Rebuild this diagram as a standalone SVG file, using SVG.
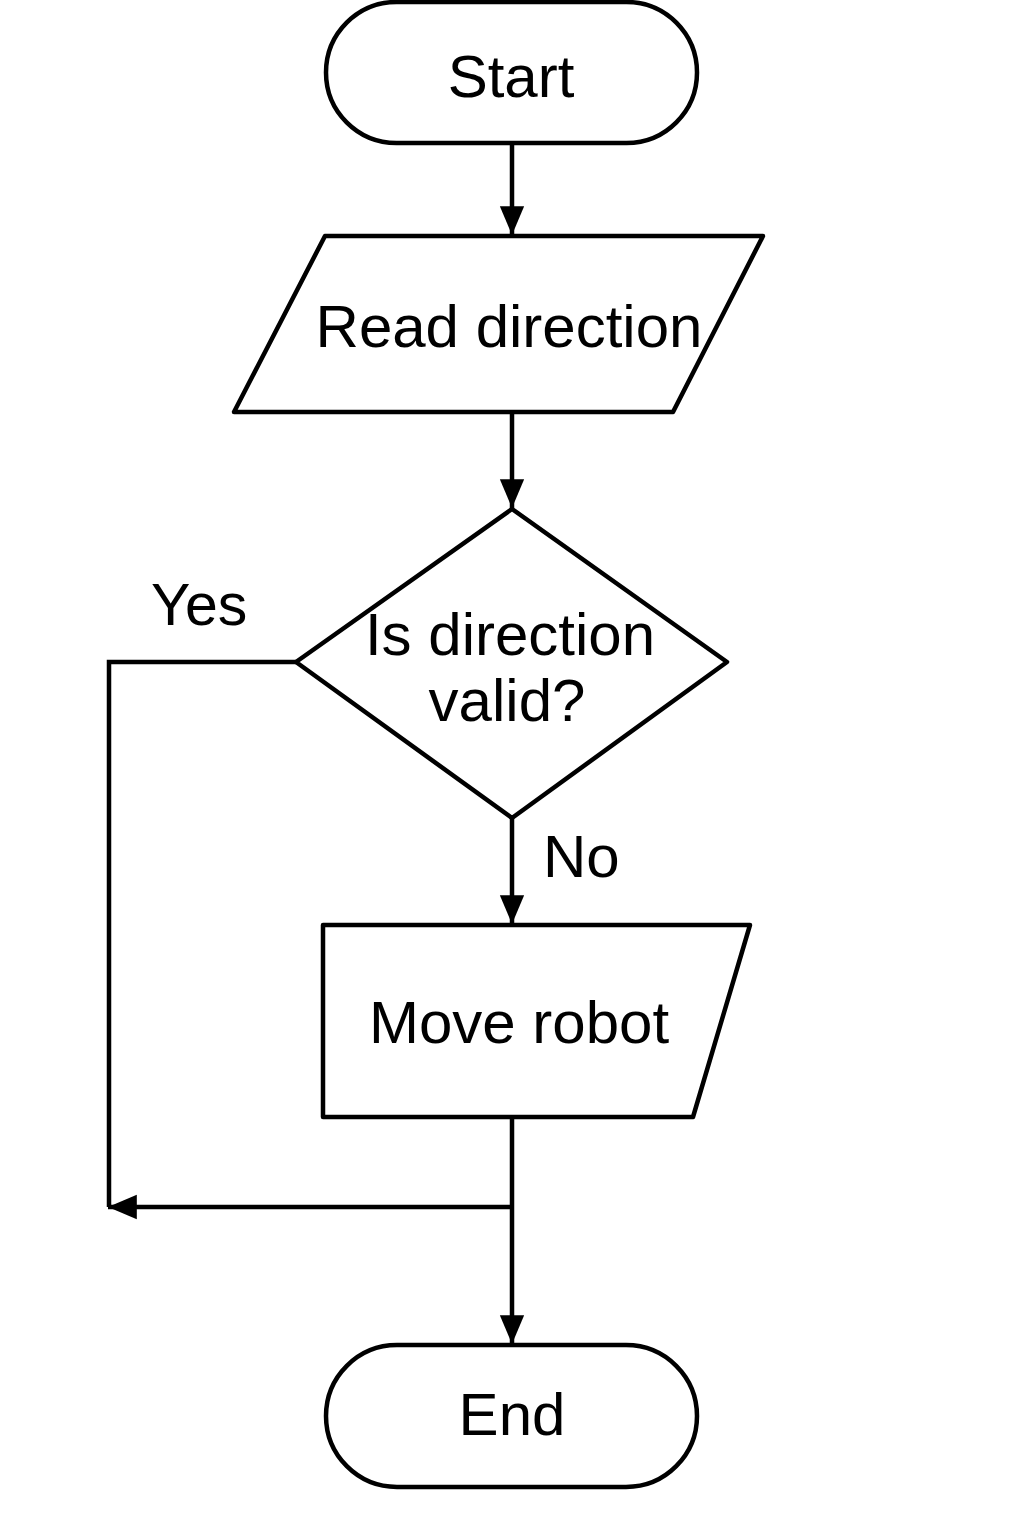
<svg xmlns="http://www.w3.org/2000/svg" width="1024" height="1536" viewBox="0 0 1024 1536">
<style>
.shape{fill:#fff;stroke:#000;stroke-width:4.5;stroke-linejoin:round}
.line{fill:none;stroke:#000;stroke-width:4.5}
text{font-family:"Liberation Sans",Arial,sans-serif;font-size:60px;fill:#000;text-anchor:middle}
.lbl{text-anchor:start}
</style>
<defs>
<marker id="arr" markerWidth="6.4" markerHeight="6" refX="6.4" refY="3" orient="auto" markerUnits="strokeWidth" viewBox="0 0 6.4 6">
<path d="M0,0.3 L6.4,3 L0,5.7 z" fill="#000"/>
</marker>
</defs>
<rect width="1024" height="1536" fill="#fff"/>
<g id="connectors">
<line class="line" x1="512" y1="144" x2="512" y2="235" marker-end="url(#arr)"/>
<line class="line" x1="512" y1="413" x2="512" y2="508" marker-end="url(#arr)"/>
<line class="line" x1="512" y1="818" x2="512" y2="924" marker-end="url(#arr)"/>
<polyline class="line" points="296,662 109,662 109,1207"/>
<line class="line" x1="512" y1="1207" x2="108" y2="1207" marker-end="url(#arr)"/>
<line class="line" x1="512" y1="1118" x2="512" y2="1344" marker-end="url(#arr)"/>
<text class="lbl" x="151" y="625" style="font-size:59px">Yes</text>
<text class="lbl" x="543" y="877">No</text>
</g>
<g id="start">
<rect class="shape" x="326" y="2" width="371" height="141" rx="70.5" ry="70.5"/>
<text x="511" y="97">Start</text>
</g>
<g id="read">
<polygon class="shape" points="325,236 763,236 673,412 234,412"/>
<text x="509" y="347">Read direction</text>
</g>
<g id="decision">
<polygon class="shape" points="512,509 727,662 512,818 296,662"/>
<text x="510" y="655">Is direction</text>
<text x="507" y="721">valid?</text>
</g>
<g id="move">
<polygon class="shape" points="323,925 750,925 693,1117 323,1117"/>
<text x="519" y="1043">Move robot</text>
</g>
<g id="end">
<rect class="shape" x="326" y="1345" width="371" height="142" rx="71" ry="71"/>
<text x="512" y="1435">End</text>
</g>
</svg>
